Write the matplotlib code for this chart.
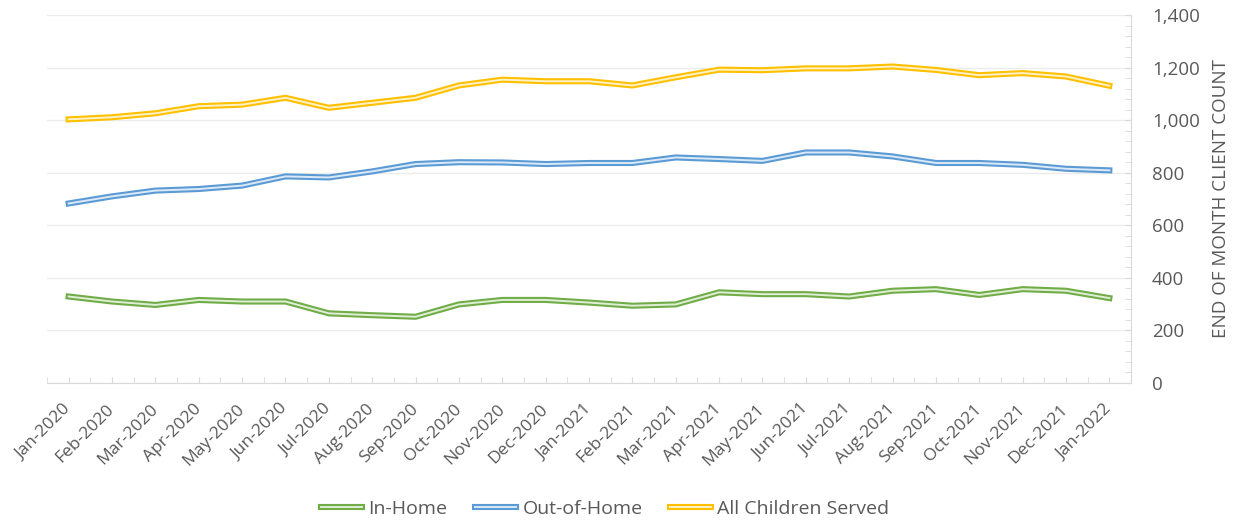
import matplotlib
matplotlib.use("Agg")
import matplotlib.pyplot as plt
import matplotlib.patheffects as pe
import matplotlib.colors as mcolors
import numpy as np
from matplotlib.ticker import MultipleLocator, FuncFormatter

months = ["Jan-2020", "Feb-2020", "Mar-2020", "Apr-2020", "May-2020", "Jun-2020",
          "Jul-2020", "Aug-2020", "Sep-2020", "Oct-2020", "Nov-2020", "Dec-2020",
          "Jan-2021", "Feb-2021", "Mar-2021", "Apr-2021", "May-2021", "Jun-2021",
          "Jul-2021", "Aug-2021", "Sep-2021", "Oct-2021", "Nov-2021", "Dec-2021",
          "Jan-2022"]
in_home = [329, 310, 297, 316, 310, 310, 265, 258, 252, 299, 316, 316,
           306, 294, 299, 345, 338, 338, 329, 351, 357, 335, 357, 351, 323]
out_of_home = [683, 710, 732, 738, 751, 786, 782, 805, 833, 840, 839, 833,
               837, 837, 858, 852, 845, 877, 877, 862, 837, 837, 830, 815, 809]
all_children = [1003, 1011, 1026, 1053, 1059, 1085, 1047, 1066, 1085, 1132, 1154, 1148,
                1148, 1132, 1163, 1192, 1190, 1197, 1197, 1204, 1191, 1171, 1179, 1166, 1131]
series_names = ["In-Home", "Out-of-Home", "All Children Served"]
series_colors = ["#70AD47", "#5B9BD5", "#FFC000"]

plt.rcParams['font.family'] = ['Open Sans', 'DejaVu Sans']
txt = "#595959"


def tint(c, f=0.78):
    r, g, b = mcolors.to_rgb(c)
    return (r + (1 - r) * f, g + (1 - g) * f, b + (1 - b) * f)


fig = plt.figure(figsize=(12.48, 5.29), dpi=100)
ax = fig.add_axes([47/1248, 1-383/529, (1131-47)/1248, (383-15)/529])

x = np.arange(len(months))
for vals, name, col in zip([in_home, out_of_home, all_children], series_names, series_colors):
    ax.plot(x, vals, color=tint(col), lw=1.4, label=name,
            path_effects=[pe.Stroke(linewidth=4.4, foreground=col), pe.Normal()])

ax.set_xlim(-0.5, len(months) - 0.5)
ax.set_ylim(0, 1400)
ax.yaxis.set_major_locator(MultipleLocator(200))
ax.yaxis.set_minor_locator(MultipleLocator(40))
ax.yaxis.set_major_formatter(FuncFormatter(lambda v, p: f"{int(v):,}"))
ax.yaxis.tick_right()
ax.yaxis.set_label_position("right")
ax.grid(axis="y", which="major", color="#ebebeb", lw=1)
ax.set_axisbelow(True)

ax.set_xticks(x)
ax.set_xticklabels(months, rotation=45, ha="right", va="center", rotation_mode="anchor",
                   fontsize=12.5, color=txt)
ax.set_xticks(np.arange(-0.5, len(months), 1.0), minor=True)
ax.tick_params(axis="x", which="both", direction="in", length=4, color="#d9d9d9", pad=17)
ax.tick_params(axis="y", which="both", direction="in", length=4, color="#d9d9d9",
               labelsize=13.5, labelcolor=txt, pad=15)
for lab in ax.get_yticklabels():
    lab.set_horizontalalignment("left")

for s in ["top", "left"]:
    ax.spines[s].set_visible(False)
for s in ["bottom", "right"]:
    ax.spines[s].set_color("#d9d9d9")

ax.set_ylabel("END OF MONTH CLIENT COUNT", fontsize=13.5, color=txt, labelpad=9)

leg = fig.legend(loc="lower center", bbox_to_anchor=(0.485, -0.012), ncol=3, frameon=False,
                 fontsize=14, handlelength=2.1, columnspacing=1.4, handletextpad=0.35)
for t in leg.get_texts():
    t.set_color(txt)

fig.savefig("out.png", dpi=100)
